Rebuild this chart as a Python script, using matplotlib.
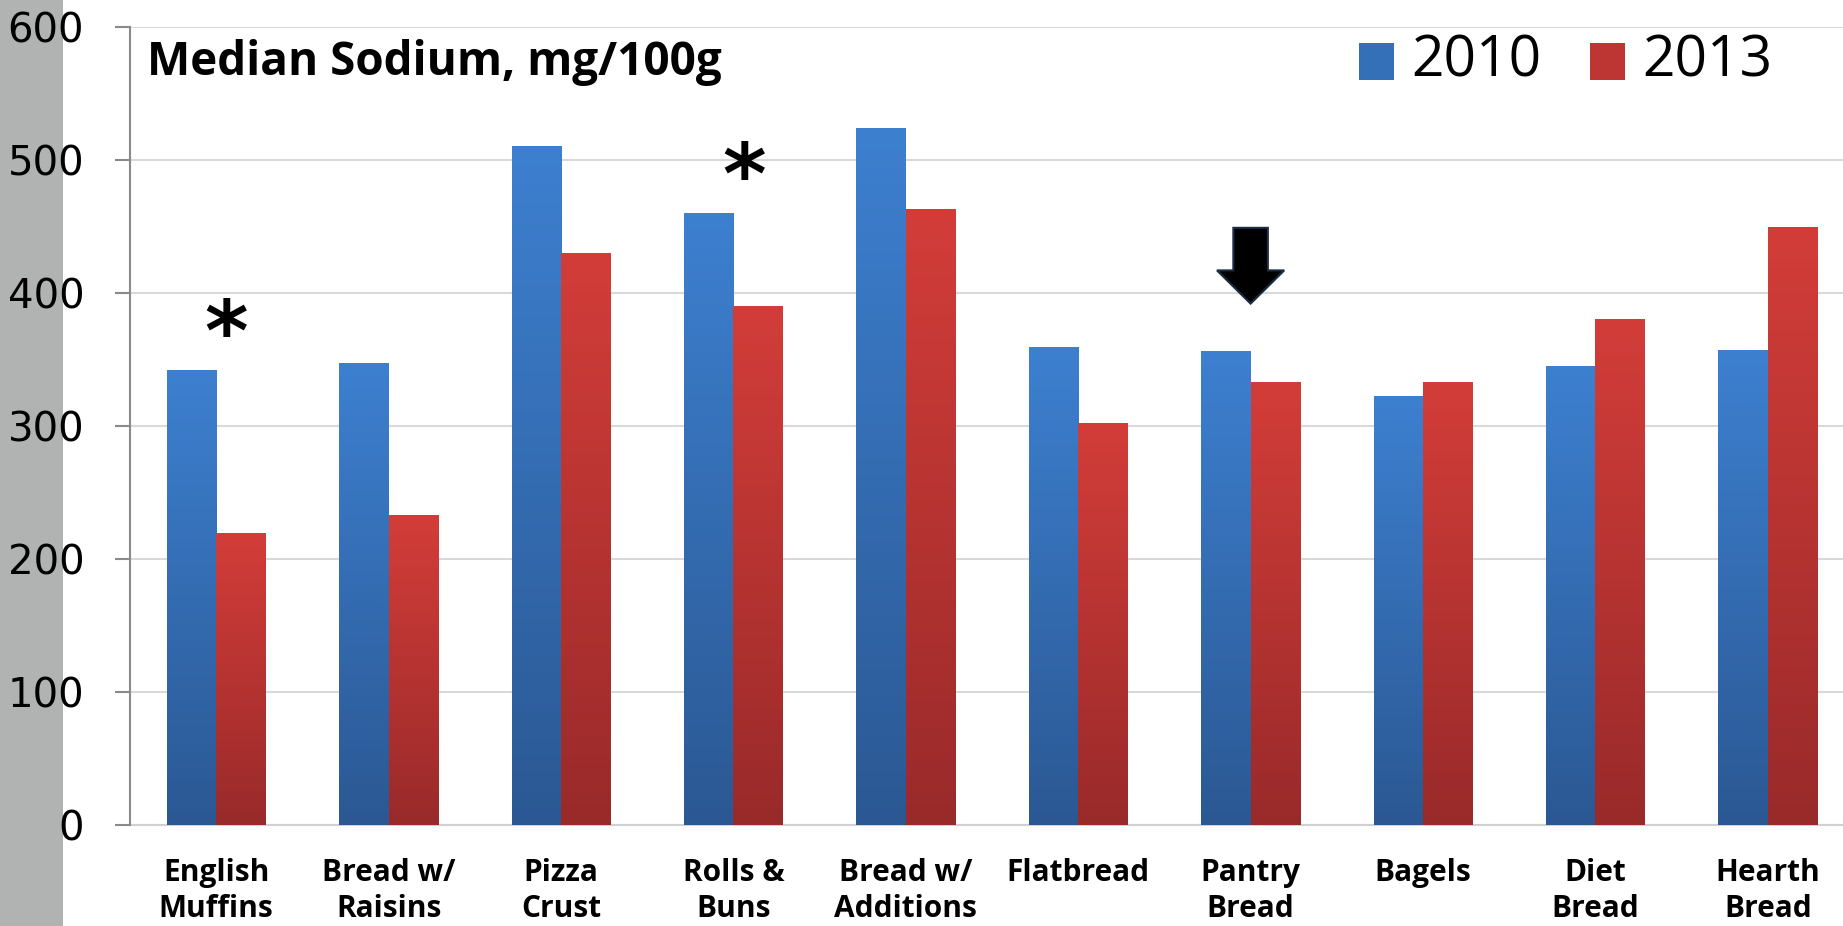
import numpy as np
import matplotlib
matplotlib.use("Agg")
import matplotlib.pyplot as plt
from matplotlib.patches import Rectangle, Polygon
from matplotlib import font_manager

categories = ["English\nMuffins", "Bread w/\nRaisins", "Pizza\nCrust", "Rolls &\nBuns",
              "Bread w/\nAdditions", "Flatbread", "Pantry\nBread", "Bagels",
              "Diet\nBread", "Hearth\nBread"]
sodium_2010 = [342, 347, 510, 460, 524, 359, 356, 322, 345, 357]
sodium_2013 = [219, 233, 430, 390, 463, 302, 333, 333, 380, 449]
series_labels = ["2010", "2013"]
starred = [0, 3]          # categories marked with an asterisk
arrow_at = 6              # Pantry Bread

# pick a narrow font for the Calibri-looking labels, if there is one
names = {f.name for f in font_manager.fontManager.ttflist}
narrow = "Liberation Sans Narrow" if "Liberation Sans Narrow" in names else "Open Sans"

W, H = 1843, 926
fig = plt.figure(figsize=(W / 100, H / 100), dpi=100)
fig.patch.set_facecolor("white")

# gray strip on the left edge (behind the axes and its tick labels)
fig.patches.append(Rectangle((0, 0), 63 / W, 1, transform=fig.transFigure,
                             facecolor="#b1b3b2", edgecolor="none", zorder=-5))

ax = fig.add_axes([130 / W, 101 / H, 1724 / W, (899 - 101) / H])
ax.set_facecolor("none")
ax.set_zorder(2)

x = np.arange(len(categories))
bw = 0.287
b1 = ax.bar(x - bw / 2, sodium_2010, bw, color="#3470b8", zorder=2)
b2 = ax.bar(x + bw / 2, sodium_2013, bw, color="#bd3633", zorder=2)

def gradient(bars, top, bottom):
    top = np.array(matplotlib.colors.to_rgb(top))
    bottom = np.array(matplotlib.colors.to_rgb(bottom))
    t = np.linspace(0, 1, 256)[:, None]
    img = (top * (1 - t) + bottom * t)[:, None, :]
    for b in bars:
        x0, y0 = b.get_x(), b.get_y()
        ax.imshow(img, extent=(x0, x0 + b.get_width(), y0, y0 + b.get_height()),
                  aspect="auto", zorder=3, interpolation="bilinear")

gradient(b1, "#3d80d0", "#2b5893")
gradient(b2, "#d33d39", "#992a2a")

ax.set_xlim(-0.5, 9.5)
ax.set_ylim(0, 600)
ax.set_yticks(range(0, 601, 100))
ax.yaxis.grid(True, color="#d9d9d9", linewidth=1.5, zorder=0)
ax.set_axisbelow(True)

for s in ["top", "right"]:
    ax.spines[s].set_visible(False)
ax.spines["left"].set_color("#8a8a8a")
ax.spines["left"].set_linewidth(1.5)
ax.spines["bottom"].set_color("#d0d0d0")
ax.spines["bottom"].set_linewidth(1.5)
ax.spines["bottom"].set_zorder(1)

ax.tick_params(axis="y", length=11, width=1.5, color="#8a8a8a", pad=22,
               labelsize=29, labelcolor="black")
ax.tick_params(axis="x", length=0, pad=24)
ax.set_xticks(x)
ax.set_xticklabels(categories, fontsize=21.5, fontweight="bold", family=narrow,
                   linespacing=1.25)

# title inside the plot
fig.text(147 / W, 863 / H, "Median Sodium, mg/100g",
         fontsize=33, fontweight="bold", family=narrow, va="center", ha="left",
         zorder=5)

# legend drawn by hand to match the large squares
for i, (lab, col) in enumerate(zip(series_labels, ["#3470b8", "#bd3633"])):
    x0 = [1359, 1590][i]
    fig.patches.append(Rectangle((x0 / W, (926 - 80) / H), 35 / W, 37 / H,
                                 transform=fig.transFigure, facecolor=col,
                                 edgecolor="none", zorder=5))
    fig.text((x0 + 52) / W, (926 - 62) / H, lab, fontsize=41, family="Open Sans",
             va="center", ha="left", zorder=5)

# asterisks
for i in starred:
    top = max(sodium_2010[i], sodium_2013[i])
    ax.text(i + 0.06, top + 25, "*", fontsize=60, fontweight="bold",
            ha="center", va="center", zorder=5)

# down arrow over Pantry Bread
cx = arrow_at
tip = max(sodium_2010[cx], sodium_2013[cx]) + 36
sw, hw = 0.1, 0.195
arrow = Polygon([(cx - sw, tip + 57), (cx + sw, tip + 57), (cx + sw, tip + 25),
                 (cx + hw, tip + 25), (cx, tip), (cx - hw, tip + 25),
                 (cx - sw, tip + 25)], closed=True, facecolor="black",
                edgecolor="#1c2e45", linewidth=1.5, zorder=6)
ax.add_patch(arrow)

fig.savefig("out.png", dpi=100)
